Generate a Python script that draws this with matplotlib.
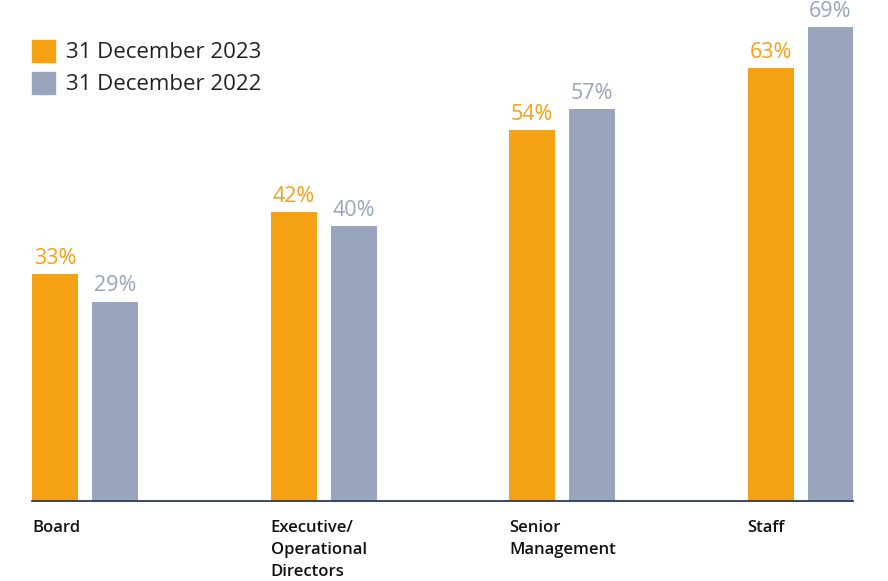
import matplotlib
matplotlib.use("Agg")
import matplotlib.pyplot as plt
from matplotlib.patches import Rectangle
import numpy as np

# -----------------------------
# Data
# -----------------------------
categories = ["Board", "Executive/\nOperational\nDirectors", "Senior\nManagement", "Staff"]
values_2023 = [33, 42, 54, 63]
values_2022 = [29, 40, 57, 69]
series_names = ["31 December 2023", "31 December 2022"]

ORANGE = "#F4A214"
GREY = "#99A4BD"
AXIS = "#2B3A55"

plt.rcParams["font.family"] = ["Open Sans", "DejaVu Sans"]

fig = plt.figure(figsize=(8.88, 5.81), dpi=100)
W, H = 888, 581
# axes spans pixel x 32..853, y 27..501 (top-origin)
ax = fig.add_axes([32 / W, 80 / H, (853 - 32) / W, (501 - 27) / H])

x = np.arange(len(categories))
width = 46 / 238.5
offset = 30 / 238.5

bars1 = ax.bar(x - offset, values_2023, width, color=ORANGE)
bars2 = ax.bar(x + offset, values_2022, width, color=GREY)

for bars, vals, col in [(bars1, values_2023, ORANGE), (bars2, values_2022, GREY)]:
    for b, v in zip(bars, vals):
        ax.text(b.get_x() + b.get_width() / 2, v + 0.8, f"{v}%", ha="center", va="bottom",
                color=col, fontsize=15.5, clip_on=False)

ax.set_xlim(-53 / 238.5, 3 + 52.5 / 238.5)
ax.set_ylim(0, 69)

for s in ["top", "right", "left"]:
    ax.spines[s].set_visible(False)
ax.spines["bottom"].set_color(AXIS)
ax.spines["bottom"].set_linewidth(1.3)
ax.set_yticks([])
ax.set_xticks([])

# category labels, left-aligned with the orange bar
for i, cat in enumerate(categories):
    ax.text(i - offset - width / 2, -2.8, cat, ha="left", va="top", fontsize=12,
            fontweight="semibold", color="#111111", linespacing=1.48, clip_on=False)

# legend drawn by hand: squares and texts
for k, (name, col) in enumerate(zip(series_names, [ORANGE, GREY])):
    top = 40 + 32 * k
    fig.add_artist(Rectangle((32 / W, 1 - (top + 22) / H), 23 / W, 22 / H,
                             transform=fig.transFigure, color=col))
    fig.text(66 / W, 1 - (top + 13) / H, name, ha="left", va="center",
             fontsize=16, color="#222222")

fig.savefig("out.png", dpi=100)
